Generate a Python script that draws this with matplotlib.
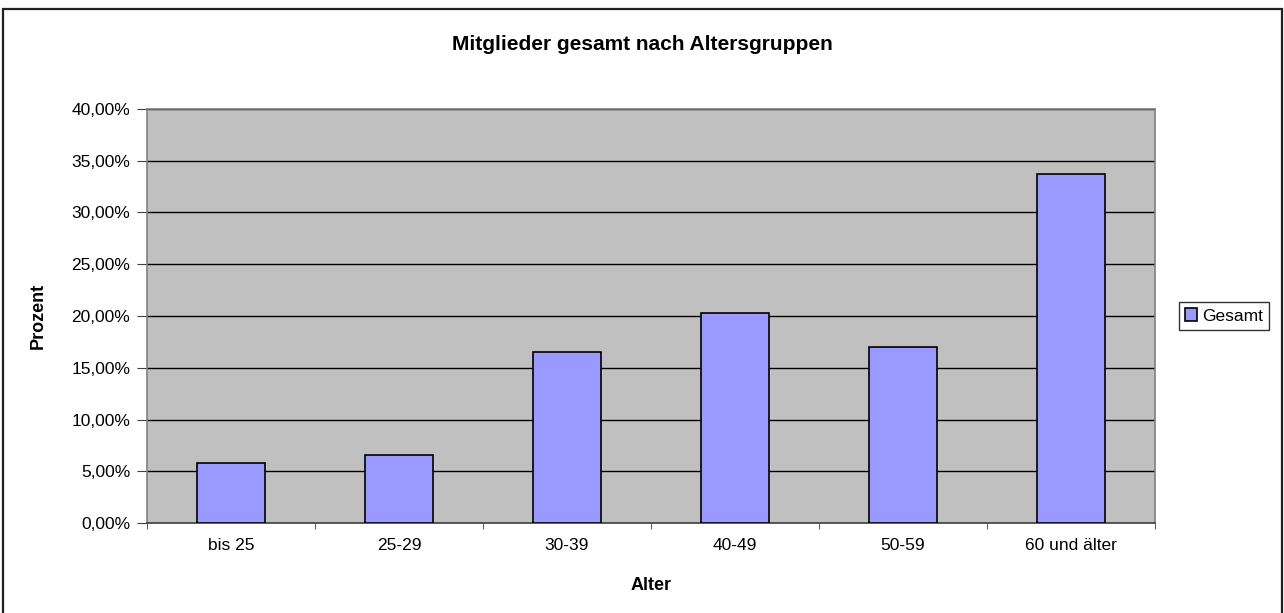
import matplotlib
matplotlib.use("Agg")
import matplotlib.pyplot as plt
from matplotlib.patches import Rectangle
from matplotlib.ticker import FuncFormatter, FixedLocator
import numpy as np

plt.rcParams['font.family'] = ['Liberation Sans', 'DejaVu Sans']

categories = ["bis 25", "25-29", "30-39", "40-49", "50-59", "60 und älter"]
gesamt = [5.78, 6.6, 16.5, 20.25, 16.97, 33.75]
yticks = [0, 5, 10, 15, 20, 25, 30, 35, 40]

W, H = 1284, 613
fig = plt.figure(figsize=(W / 100, H / 100), dpi=100)
fig.patch.set_facecolor('white')

# figure border
fig.patches.append(Rectangle((3 / W, -0.05), (1282 - 3) / W, (H - 9) / H + 0.05,
                             transform=fig.transFigure, fill=False,
                             edgecolor='#202020', linewidth=1.6))

ax = fig.add_axes([147 / W, (H - 523) / H, (1155 - 147) / W, (523 - 109) / H])
ax.set_facecolor('#C0C0C0')

x = np.arange(len(categories))
ax.bar(x, gesamt, width=0.4, color='#9999FF', edgecolor='black', linewidth=1.2,
       zorder=3, label='Gesamt')

ax.set_xlim(-0.5, len(categories) - 0.5)
ax.set_ylim(0, 40)
ax.yaxis.set_major_locator(FixedLocator(yticks))
ax.yaxis.set_major_formatter(FuncFormatter(lambda v, p: f"{v:.2f}%".replace('.', ',')))
ax.grid(axis='y', color='black', linewidth=1.0, zorder=1)
ax.set_axisbelow(True)

ax.set_xticks(x)
ax.set_xticklabels(categories, fontsize=12.5)
ax.tick_params(axis='x', which='major', length=0, pad=11)
ax.set_xticks(np.arange(-0.5, len(categories)), minor=True)
ax.tick_params(axis='x', which='minor', length=4.5, color='#404040', direction='out')
ax.tick_params(axis='y', length=7, color='#404040', direction='out', labelsize=12.5, pad=5)

for s in ax.spines.values():
    s.set_color('#808080')
    s.set_linewidth(1.2)
ax.spines['bottom'].set_color('#404040')

ax.set_xlabel('Alter', fontsize=13, fontweight='bold', va='center')
ax.xaxis.set_label_coords(0.5, (523 - 586) / 414)
ax.set_ylabel('Prozent', fontsize=13, fontweight='bold', va='center')
ax.yaxis.set_label_coords((38 - 147) / 1008, 0.5)

fig.text(0.5, 1 - 44 / H, 'Mitglieder gesamt nach Altersgruppen', ha='center', va='center',
         fontsize=15, fontweight='bold')

leg = fig.legend(loc='center', bbox_to_anchor=(1224 / W, 1 - 316 / H), fontsize=12.5,
                 frameon=True, fancybox=False, edgecolor='black', handlelength=0.7,
                 handleheight=0.7, handletextpad=0.3, borderpad=0.35, borderaxespad=0)
leg.get_frame().set_linewidth(1.0)

fig.savefig('out.png', dpi=100)
